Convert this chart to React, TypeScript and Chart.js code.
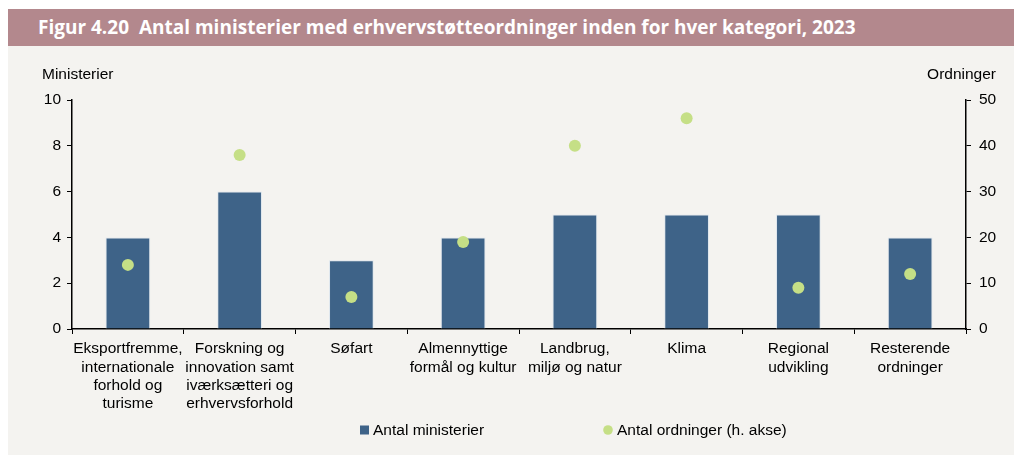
import React, { useEffect, useRef } from "react";
import { Chart, registerables } from "chart.js";

Chart.register(...registerables);

const categories: string[][] = [
  ["Eksportfremme,", "internationale", "forhold og", "turisme"],
  ["Forskning og", "innovation samt", "iværksætteri og", "erhvervsforhold"],
  ["Søfart"],
  ["Almennyttige", "formål og kultur"],
  ["Landbrug,", "miljø og natur"],
  ["Klima"],
  ["Regional", "udvikling"],
  ["Resterende", "ordninger"],
];
const ministerier = [4, 6, 3, 4, 5, 5, 5, 4];
const ordninger = [14, 38, 7, 19, 40, 46, 9, 12];
const leftTicks = [0, 2, 4, 6, 8, 10];
const rightTicks = [0, 10, 20, 30, 40, 50];

const TITLE = "Figur 4.20  Antal ministerier med erhvervstøtteordninger inden for hver kategori, 2023";
const LEFT_AXIS_TITLE = "Ministerier";
const RIGHT_AXIS_TITLE = "Ordninger";
const SERIES_1 = "Antal ministerier";
const SERIES_2 = "Antal ordninger (h. akse)";

const BAR_COLOR = "#3E6388";
const DOT_COLOR = "#C5DF86";
const FONT = "'Liberation Sans', Arial, sans-serif";
const FS = 15.5;

export default function App() {
  const ref = useRef<HTMLCanvasElement | null>(null);

  useEffect(() => {
    if (!ref.current) return;
    const extras = {
      id: "extras",
      afterDraw(chart: any) {
        const ctx = chart.ctx;
        ctx.save();
        ctx.font = `${FS}px ${FONT}`;
        ctx.fillStyle = "#000";
        ctx.textBaseline = "middle";
        ctx.textAlign = "left";
        ctx.fillText(LEFT_AXIS_TITLE, 34, 29);
        ctx.textAlign = "right";
        ctx.fillText(RIGHT_AXIS_TITLE, 988, 29);
        // legend
        const ly = 384;
        ctx.textAlign = "left";
        ctx.fillStyle = BAR_COLOR;
        ctx.fillRect(352, ly - 4.5, 9, 9);
        ctx.fillStyle = "#000";
        ctx.fillText(SERIES_1, 365, ly + 1);
        ctx.fillStyle = DOT_COLOR;
        ctx.beginPath();
        ctx.arc(600, ly, 4.8, 0, Math.PI * 2);
        ctx.fill();
        ctx.fillStyle = "#000";
        ctx.fillText(SERIES_2, 609, ly + 1);
        ctx.restore();
      },
    };
    const chart = new Chart(ref.current, {
      type: "bar",
      data: {
        labels: categories as any,
        datasets: [
          {
            type: "bar",
            label: SERIES_1,
            data: ministerier,
            backgroundColor: BAR_COLOR,
            borderColor: "rgba(220,228,236,0.9)",
            borderWidth: 1,
            barPercentage: 0.4,
            categoryPercentage: 1,
            yAxisID: "y",
            order: 2,
          } as any,
          {
            type: "line",
            label: SERIES_2,
            data: ordninger,
            showLine: false,
            pointRadius: 6,
            pointBackgroundColor: DOT_COLOR,
            pointBorderWidth: 0,
            borderColor: DOT_COLOR,
            yAxisID: "y1",
            order: 1,
          } as any,
        ],
      },
      options: {
        responsive: false,
        animation: false,
        layout: { padding: { top: 54, bottom: 0, left: 0, right: 0 } },
        plugins: {
          legend: { display: false },
          tooltip: { enabled: false },
          title: { display: false },
        },
        scales: {
          x: {
            grid: { drawOnChartArea: false, drawTicks: true, tickLength: 5, color: "#000", offset: true },
            border: { color: "#000", width: 1.5 },
            ticks: {
              color: "#000",
              font: { family: FONT, size: FS, lineHeight: 1.18 },
              padding: 6,
              maxRotation: 0,
              autoSkip: false,
            },
            afterFit(s: any) {
              s.height = 126;
            },
          },
          y: {
            position: "left",
            min: 0,
            max: 10,
            afterBuildTicks(s: any) {
              s.ticks = leftTicks.map((v) => ({ value: v }));
            },
            grid: { drawOnChartArea: false, drawTicks: true, tickLength: 5, color: "#000" },
            border: { color: "#000", width: 1.5 },
            ticks: { color: "#000", font: { family: FONT, size: FS }, padding: 6 },
            afterFit(s: any) {
              s.width = 64;
            },
          },
          y1: {
            position: "right",
            min: 0,
            max: 50,
            afterBuildTicks(s: any) {
              s.ticks = rightTicks.map((v) => ({ value: v }));
            },
            grid: { drawOnChartArea: false, drawTicks: true, tickLength: 5, color: "#000" },
            border: { color: "#000", width: 1.5 },
            ticks: { color: "#000", font: { family: FONT, size: FS }, padding: 8 },
            afterFit(s: any) {
              s.width = 48;
            },
          },
        },
      } as any,
      plugins: [extras],
    });
    return () => chart.destroy();
  }, []);

  return (
    <div style={{ position: "fixed", left: 8, top: 9, width: 1006, height: 446 }}>
      <div
        style={{
          height: 37,
          background: "#B3888D",
          color: "#fff",
          fontFamily: "'Open Sans', sans-serif",
          fontWeight: 700,
          fontSize: 19,
          lineHeight: "37px",
          paddingLeft: 30,
          whiteSpace: "pre",
          overflow: "hidden",
        }}
      >
        {TITLE}
      </div>
      <div style={{ height: 409, background: "#F4F3F0" }}>
        <canvas ref={ref} width={1006} height={409} style={{ display: "block" }} />
      </div>
    </div>
  );
}
